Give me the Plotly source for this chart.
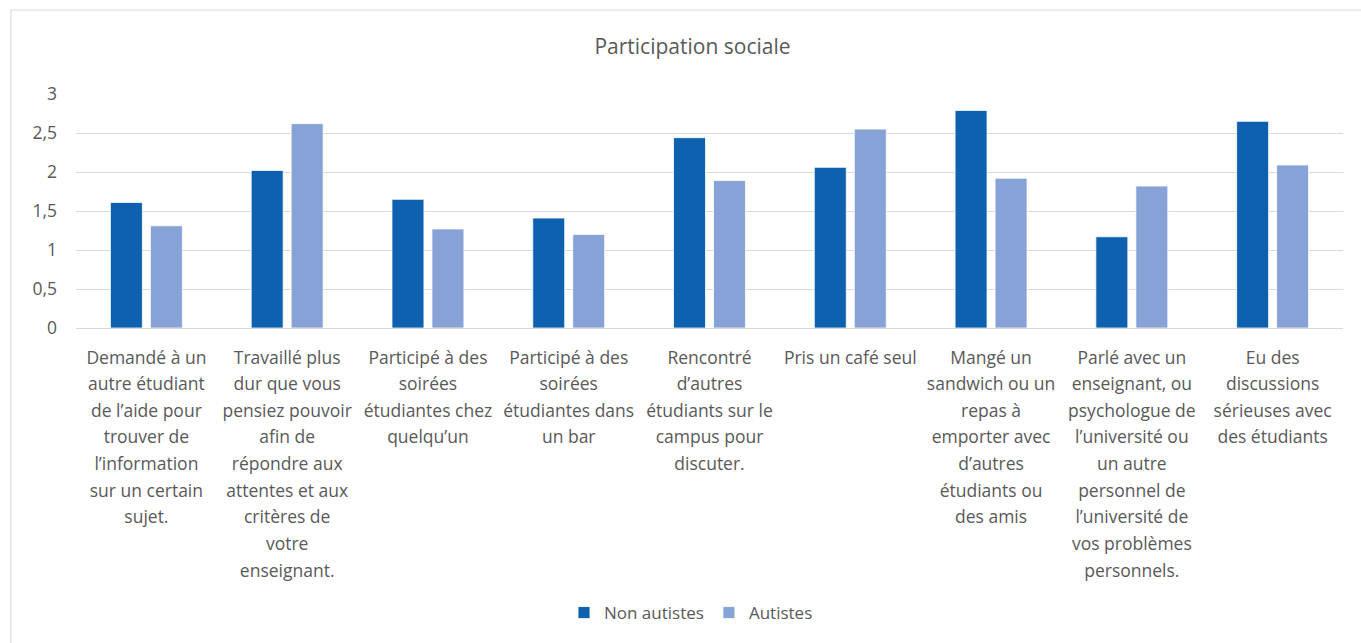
import plotly.graph_objects as go

# ---- data ----
categories = [
    "Demandé à un autre étudiant de l’aide pour trouver de l’information sur un certain sujet.",
    "Travaillé plus dur que vous pensiez pouvoir afin de répondre aux attentes et aux critères de votre enseignant.",
    "Participé à des soirées étudiantes chez quelqu’un",
    "Participé à des soirées étudiantes dans un bar",
    "Rencontré d’autres étudiants sur le campus pour discuter.",
    "Pris un café seul",
    "Mangé un sandwich ou un repas à emporter avec d’autres étudiants ou des amis",
    "Parlé avec un enseignant, ou psychologue de l’université ou un autre personnel de l’université de vos problèmes personnels.",
    "Eu des discussions sérieuses avec des étudiants",
]
label_lines = [
    ["Demandé à un", "autre étudiant", "de l’aide pour", "trouver de", "l’information", "sur un certain", "sujet."],
    ["Travaillé plus", "dur que vous", "pensiez pouvoir", "afin de", "répondre aux", "attentes et aux", "critères de", "votre", "enseignant."],
    ["Participé à des", "soirées", "étudiantes chez", "quelqu’un"],
    ["Participé à des", "soirées", "étudiantes dans", "un bar"],
    ["Rencontré", "d’autres", "étudiants sur le", "campus pour", "discuter."],
    ["Pris un café seul"],
    ["Mangé un", "sandwich ou un", "repas à", "emporter avec", "d’autres", "étudiants ou", "des amis"],
    ["Parlé avec un", "enseignant, ou", "psychologue de", "l’université ou", "un autre", "personnel de", "l’université de", "vos problèmes", "personnels."],
    ["Eu des", "discussions", "sérieuses avec", "des étudiants"],
]
non_autistes = [1.61, 2.02, 1.65, 1.41, 2.44, 2.06, 2.79, 1.17, 2.65]
autistes = [1.31, 2.62, 1.27, 1.20, 1.89, 2.55, 1.92, 1.82, 2.09]
series_names = ["Non autistes", "Autistes"]
y_tickvals = [0, 0.5, 1, 1.5, 2, 2.5, 3]

# ---- style ----
TXT = "#595959"
FONT = "Open Sans"
C_DARK = "#0E61AE"
C_LIGHT = "#87A2D6"
GRID = "#D9D9D9"
W, H = 1361, 643
L, R, T, B = 76, 18, 94, 315

ticktext = ["<br>".join(f'<span style="font-size:17.5px">{ln}</span>' for ln in lines)
            for lines in label_lines]

fig = go.Figure()
fig.add_trace(go.Bar(x=categories, y=non_autistes, name=series_names[0],
                     marker=dict(color=C_DARK, line=dict(color="white", width=0.8))))
fig.add_trace(go.Bar(x=categories, y=autistes, name=series_names[1],
                     marker=dict(color=C_LIGHT, line=dict(color="white", width=0.8))))

plot_h = H - T - B
plot_w = W - L - R

def px_x(px):
    return (px - L) / plot_w

def px_y(py):
    return (H - B - py) / plot_h

fig.add_shape(type="rect", xref="paper", yref="paper",
              x0=px_x(11), x1=px_x(1420), y0=px_y(10), y1=px_y(700),
              line=dict(color=GRID, width=1.2), fillcolor="rgba(0,0,0,0)", layer="below")

fig.update_layout(
    width=W, height=H,
    margin=dict(l=L, r=R, t=T, b=B, autoexpand=False),
    paper_bgcolor="white", plot_bgcolor="white",
    separators=", ",
    barmode="group", bargap=0.432, bargroupgap=0.2,
    font=dict(family=FONT, color=TXT, size=17),
    title=dict(text="Participation sociale", x=692.5 / W, xanchor="center", xref="container",
               y=1 - 47 / H, yanchor="middle", yref="container",
               font=dict(family=FONT, size=21, color=TXT)),
    showlegend=True,
    legend=dict(orientation="h", xref="container", x=691 / W, xanchor="center",
                yref="paper", y=px_y(613), yanchor="middle",
                font=dict(family=FONT, size=17, color=TXT),
                bgcolor="rgba(0,0,0,0)"),
    xaxis=dict(type="category", showgrid=False, showline=False, zeroline=False,
               ticks="", tickmode="array", tickvals=categories, ticktext=ticktext,
               tickangle=0, tickfont=dict(family=FONT, size=20.5, color=TXT),
               ticklabelstandoff=14, automargin=False),
    yaxis=dict(range=[0, 3], tickvals=y_tickvals, showgrid=True, gridcolor=GRID, gridwidth=1,
               zeroline=True, zerolinecolor=GRID, zerolinewidth=1, showline=False,
               ticks="", tickfont=dict(family=FONT, size=17.5, color=TXT),
               ticklabelstandoff=18, automargin=False, fixedrange=True),
)

fig.write_html("out.html",
               config={"displayModeBar": False},
               post_script="document.body.style.margin='0';document.body.style.padding='0';")
